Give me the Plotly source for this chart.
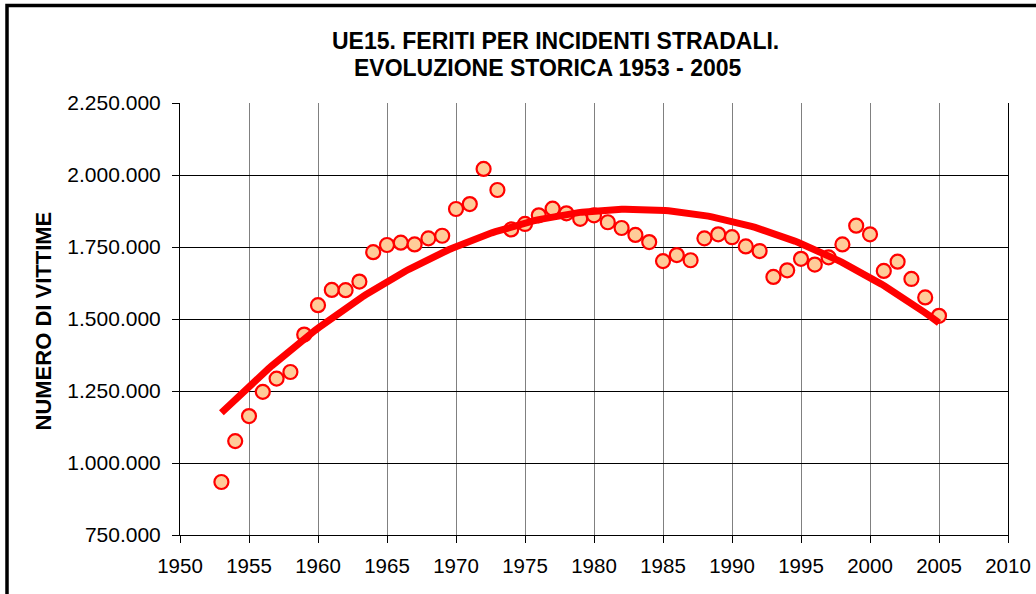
import numpy as np
import plotly.graph_objects as go

years = list(range(1953, 2006))
injured = [
    934000, 1076000, 1163000, 1247000, 1293000, 1316000, 1446000,
    1548000, 1601000, 1600000, 1630000, 1732000, 1757000, 1765000,
    1759000, 1780000, 1789000, 1882000, 1899000, 2021000, 1948000,
    1811000, 1830000, 1860000, 1883000, 1867000, 1848000, 1860000,
    1836000, 1816000, 1792000, 1767000, 1701000, 1722000, 1704000,
    1780000, 1794000, 1784000, 1752000, 1736000, 1646000, 1669000,
    1709000, 1689000, 1714000, 1759000, 1824000, 1794000, 1667000,
    1699000, 1639000, 1575000, 1511000,
]
x_ticks = list(range(1950, 2011, 5))
y_ticks = [750000, 1000000, 1250000, 1500000, 1750000, 2000000, 2250000]
title_line1 = "UE15. FERITI PER INCIDENTI STRADALI."
title_line2 = "EVOLUZIONE STORICA 1953 - 2005"
y_title = "NUMERO DI VITTIME"

# polynomial (order 2) trendline, as in the original spreadsheet chart
coef = np.polyfit(np.array(years, dtype=float) - 1979, np.array(injured, dtype=float), 2)
trend_x = np.linspace(years[0], years[-1], 200)
trend_y = np.polyval(coef, trend_x - 1979)

FONT = "Liberation Sans, Arial, sans-serif"

fig = go.Figure()
fig.add_trace(go.Scatter(
    x=years, y=injured, mode="markers",
    marker=dict(size=14, color="#FFCC99", line=dict(color="#FF0000", width=2.2)),
    showlegend=False, hoverinfo="x+y",
))
fig.add_trace(go.Scatter(
    x=trend_x, y=trend_y, mode="lines",
    line=dict(color="#FF0000", width=7),
    showlegend=False, hoverinfo="skip",
))

L, R, T, B = 180, 28, 103, 59
W, H = 1036, 594
pw, ph = W - L - R, H - T - B

def px_x(p):
    return (p - L) / pw

def px_y(p):
    return (H - B - p) / ph

fig.update_layout(
    width=W, height=H, autosize=False,
    margin=dict(l=L, r=R, t=T, b=B, pad=0, autoexpand=False),
    paper_bgcolor="white", plot_bgcolor="white",
    separators=",.",
    font=dict(family=FONT, size=21, color="black"),
    xaxis=dict(
        range=[1950, 2010], tickvals=x_ticks, tickformat="d",
        showgrid=True, gridcolor="#808080", gridwidth=1,
        showline=True, linecolor="black", linewidth=1,
        ticks="outside", ticklen=7, tickcolor="black",
        ticklabelstandoff=5, automargin=False,
        zeroline=False, tickfont=dict(size=20.5),
    ),
    yaxis=dict(
        range=[750000, 2250000], tickvals=y_ticks, tickformat=",d",
        showgrid=True, gridcolor="black", gridwidth=1,
        showline=True, linecolor="black", linewidth=1, mirror=True,
        ticks="outside", ticklen=7, tickcolor="black",
        ticklabelstandoff=7, automargin=False,
        zeroline=False, tickfont=dict(size=21),
    ),
    shapes=[dict(
        type="rect", xref="paper", yref="paper",
        x0=px_x(7), x1=px_x(1100), y0=px_y(700), y1=px_y(5.5),
        line=dict(color="black", width=3.5), fillcolor="rgba(0,0,0,0)",
        layer="above",
    )],
    annotations=[
        dict(text="<b>%s</b>" % title_line1, xref="paper", yref="paper",
             x=px_x(555), y=px_y(41), xanchor="center", yanchor="middle",
             showarrow=False, font=dict(size=23, family=FONT)),
        dict(text="<b>%s</b>" % title_line2, xref="paper", yref="paper",
             x=px_x(548), y=px_y(68), xanchor="center", yanchor="middle",
             showarrow=False, font=dict(size=23, family=FONT)),
        dict(text="<b>%s</b>" % y_title, xref="paper", yref="paper",
             x=px_x(43), y=px_y(321.5), xanchor="center", yanchor="middle",
             textangle=-90, showarrow=False, font=dict(size=22, family=FONT)),
    ],
)

fig.write_html(
    "out.html",
    config={"displayModeBar": False, "responsive": False},
    post_script="document.body.style.margin='0px';document.body.style.overflow='hidden';",
)
